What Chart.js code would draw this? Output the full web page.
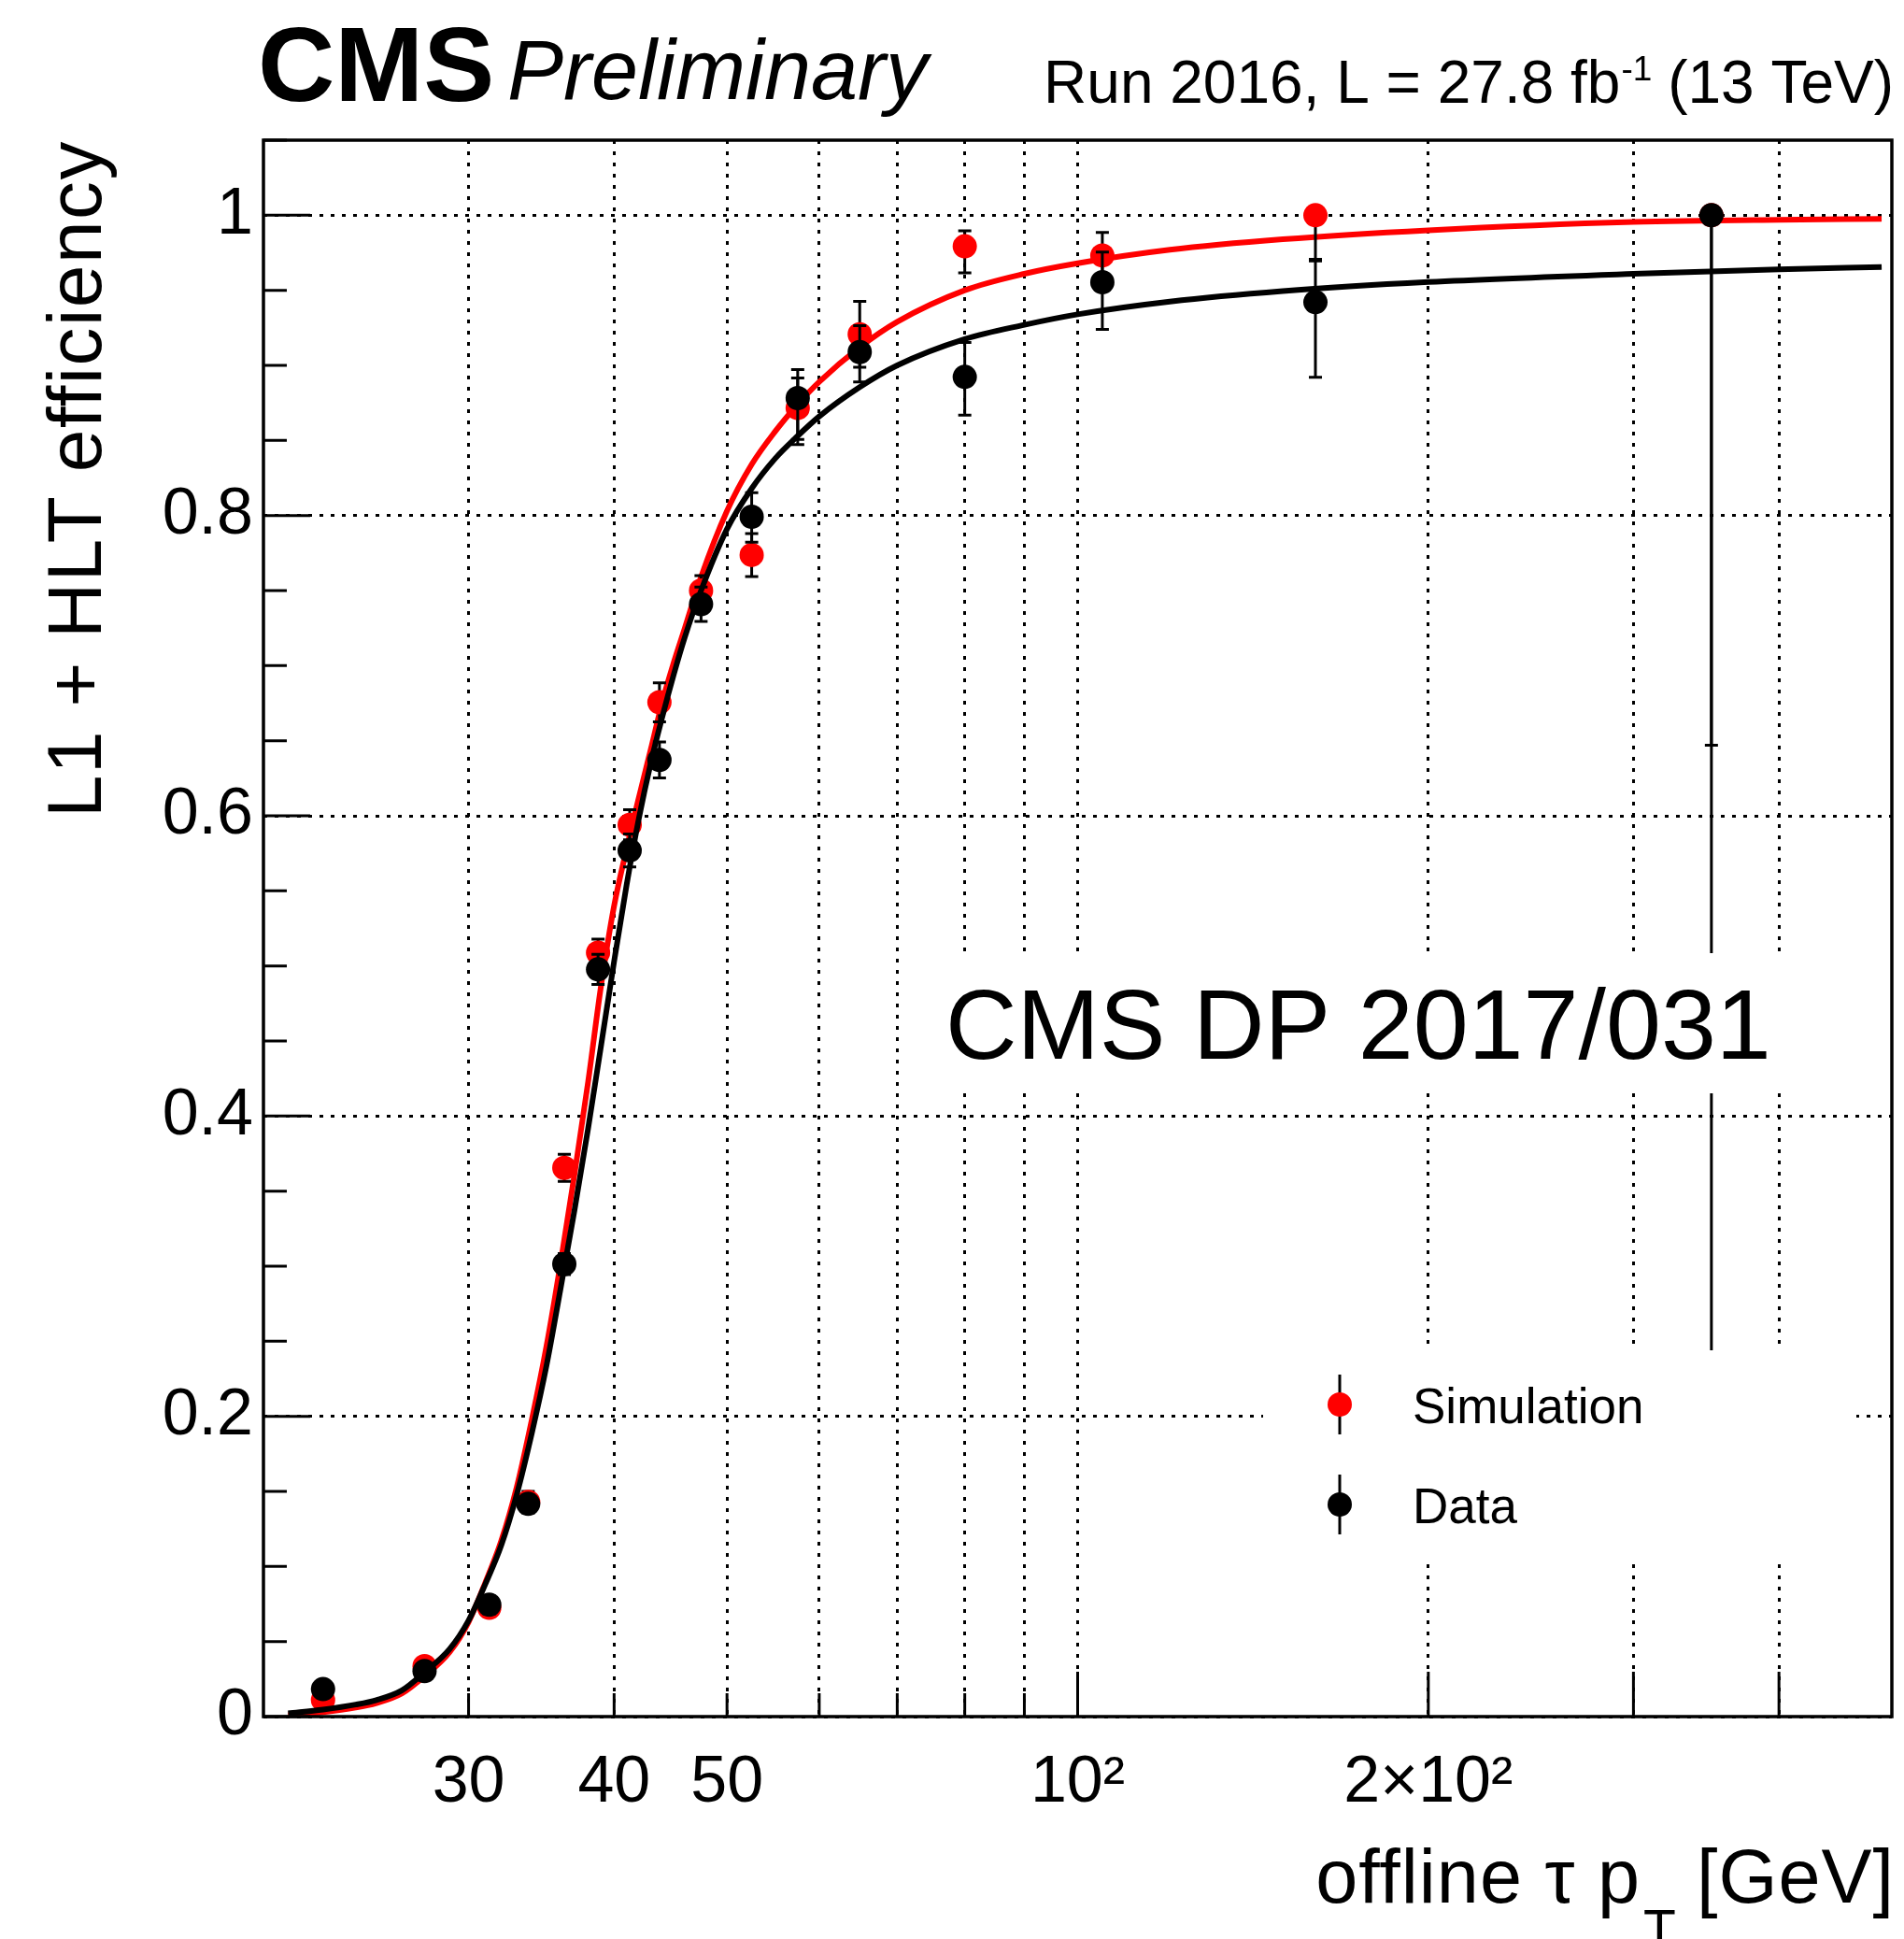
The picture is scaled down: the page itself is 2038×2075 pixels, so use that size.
<!DOCTYPE html>
<html>
<head>
<meta charset="utf-8">
<script src="https://cdn.jsdelivr.net/npm/chart.js@4.4.1/dist/chart.umd.min.js"></script>
<style>
  html, body { margin: 0; padding: 0; background: #fff; }
  #wrap { width: 2038px; height: 2075px; }
</style>
</head>
<body>
<div id="wrap"><canvas id="chart" width="2038" height="2075"></canvas></div>
<script>
const FONT = "'Liberation Sans', Arial, Helvetica, sans-serif";

// offline tau pT bin centres [GeV]
const ptBins = [22.5, 27.5, 31.25, 33.75, 36.25, 38.75, 41.25, 43.75, 47.5, 52.5, 57.5, 65, 80, 105, 160, 350];

// Data (Run 2016)
const dataEff   = [0.0183, 0.0303, 0.0745, 0.1417, 0.3014, 0.4977, 0.5769, 0.6372, 0.7409, 0.7992, 0.8782, 0.9089, 0.8923, 0.9554, 0.9421, 1.0];
const dataErrLo = [0.004, 0.005, 0.006, 0.006, 0.007, 0.010, 0.011, 0.012, 0.0115, 0.017, 0.031, 0.020, 0.0255, 0.0315, 0.050, 0.80];
const dataErrHi = [0.004, 0.005, 0.006, 0.006, 0.007, 0.010, 0.011, 0.012, 0.0115, 0.016, 0.019, 0.0175, 0.023, 0.020, 0.0274, 0];

// Simulation
const simEff   = [0.0111, 0.0336, 0.0725, 0.143, 0.3655, 0.5088, 0.594, 0.6756, 0.750, 0.7737, 0.8716, 0.9207, 0.9793, 0.9732, 1.0, 1.0];
const simErrLo = [0.003, 0.004, 0.005, 0.007, 0.009, 0.009, 0.010, 0.013, 0.010, 0.0143, 0.021, 0.022, 0.0177, 0.0154, 0.0294, 0.353];
const simErrHi = [0.003, 0.004, 0.005, 0.007, 0.009, 0.009, 0.010, 0.013, 0.010, 0.0143, 0.020, 0.022, 0.0103, 0.0154, 0, 0];

// fitted turn-on curves
const fitPt   = [21, 22.5, 24, 25, 26.3, 27.5, 28.9, 30, 31, 32, 33, 34, 35, 36, 37, 38, 39, 40, 41, 42, 43, 44, 45, 46, 47.5, 50, 52.5, 55, 57.5, 60, 65, 70, 80, 90, 100, 120, 150, 200, 300, 400, 490];
const fitData = [0.0022, 0.0047, 0.008, 0.011, 0.0175, 0.0295, 0.045, 0.064, 0.088, 0.114, 0.148, 0.189, 0.234, 0.286, 0.338, 0.392, 0.448, 0.503, 0.554, 0.598, 0.635, 0.666, 0.694, 0.719, 0.750, 0.791, 0.818, 0.838, 0.853, 0.866, 0.8855, 0.900, 0.9175, 0.927, 0.934, 0.9425, 0.9495, 0.9555, 0.961, 0.964, 0.9655];
const fitSim  = [0.001, 0.003, 0.006, 0.009, 0.0155, 0.027, 0.043, 0.063, 0.089, 0.117, 0.153, 0.198, 0.247, 0.303, 0.362, 0.423, 0.488, 0.540, 0.578, 0.612, 0.644, 0.676, 0.702, 0.725, 0.759, 0.803, 0.834, 0.856, 0.874, 0.889, 0.912, 0.929, 0.950, 0.961, 0.968, 0.977, 0.984, 0.990, 0.9955, 0.997, 0.9975];

// axes
const xGrid = [30, 40, 50, 60, 70, 80, 90, 100, 200, 300, 400];
const xTickLabels = { 30: '30', 40: '40', 50: '50', 100: '10²', 200: '2×10²' };
const yTicks = [0, 0.2, 0.4, 0.6, 0.8, 1];
const yTickLabels = ['0', '0.2', '0.4', '0.6', '0.8', '1'];

const toXY = (xs, ys) => xs.map((x, i) => ({ x: x, y: ys[i] }));

// vertical error bars, drawn just before each point dataset
const errorBars = {
  id: 'errorBars',
  beforeDatasetDraw(chart, args) {
    const ds = chart.data.datasets[args.index];
    if (!ds.errLo) return;
    const { ctx, chartArea: a, scales: { x, y } } = chart;
    ctx.save();
    ctx.beginPath();
    ctx.rect(a.left, a.top, a.right - a.left, a.bottom - a.top);
    ctx.clip();
    ctx.strokeStyle = '#000';
    ctx.lineWidth = 3;
    ds.data.forEach((p, i) => {
      const px = x.getPixelForValue(p.x);
      const yHi = y.getPixelForValue(p.y + ds.errHi[i]);
      const yLo = y.getPixelForValue(p.y - ds.errLo[i]);
      ctx.beginPath();
      ctx.moveTo(px, yHi);
      ctx.lineTo(px, yLo);
      if (ds.errHi[i] > 0) { ctx.moveTo(px - 7, yHi); ctx.lineTo(px + 7, yHi); }
      if (ds.errLo[i] > 0) { ctx.moveTo(px - 7, yLo); ctx.lineTo(px + 7, yLo); }
      ctx.stroke();
    });
    ctx.restore();
  }
};

// frame, inward ticks, text boxes, legend and labels
const decorations = {
  id: 'decorations',
  afterDatasetsDraw(chart) {
    const { ctx, chartArea: a, scales: { x, y } } = chart;
    ctx.save();

    // white boxes behind the note and the legend
    ctx.fillStyle = '#fff';
    ctx.fillRect(995, 1020, a.right - 4 - 995, 150);
    ctx.fillRect(1352, 1445, 635, 222);

    // frame
    ctx.strokeStyle = '#000';
    ctx.lineWidth = 3.5;
    ctx.strokeRect(a.left, a.top, a.right - a.left, a.bottom - a.top);

    // x ticks
    ctx.lineWidth = 3;
    ctx.beginPath();
    xGrid.forEach(v => {
      const px = x.getPixelForValue(v);
      const len = v >= 100 ? 48 : 25;
      ctx.moveTo(px, a.bottom);
      ctx.lineTo(px, a.bottom - len);
    });
    // y ticks, major every 0.2, minor every 0.05
    for (let k = 0; k <= 21; k++) {
      const py = y.getPixelForValue(k * 0.05);
      const len = k % 4 === 0 ? 50 : 25;
      ctx.moveTo(a.left, py);
      ctx.lineTo(a.left + len, py);
    }
    ctx.stroke();

    ctx.fillStyle = '#000';
    ctx.textBaseline = 'alphabetic';

    // header
    ctx.textAlign = 'left';
    ctx.font = `bold 114px ${FONT}`;
    ctx.fillText('CMS', 276, 108);
    ctx.font = `italic 90px ${FONT}`;
    ctx.fillText('Preliminary', 543, 106);

    const lumiA = 'Run 2016, L = 27.8 fb';
    const lumiSup = '-1';
    const lumiB = ' (13 TeV)';
    ctx.font = `64px ${FONT}`;
    const wA = ctx.measureText(lumiA).width;
    const wB = ctx.measureText(lumiB).width;
    ctx.font = `37px ${FONT}`;
    const wS = ctx.measureText(lumiSup).width;
    const lx = 2027 - (wA + wS + wB);
    ctx.font = `64px ${FONT}`;
    ctx.fillText(lumiA, lx, 110);
    ctx.font = `37px ${FONT}`;
    ctx.fillText(lumiSup, lx + wA + 1, 86);
    ctx.font = `64px ${FONT}`;
    ctx.fillText(lumiB, lx + wA + wS, 110);

    // note
    ctx.font = `106px ${FONT}`;
    ctx.fillText('CMS DP 2017/031', 1012, 1133);

    // legend
    const legend = [
      { label: 'Simulation', color: '#ff0000', y: 1503 },
      { label: 'Data', color: '#000000', y: 1610 }
    ];
    legend.forEach(item => {
      ctx.strokeStyle = '#000';
      ctx.lineWidth = 3;
      ctx.beginPath();
      ctx.moveTo(1434, item.y - 32);
      ctx.lineTo(1434, item.y + 32);
      ctx.stroke();
      ctx.fillStyle = item.color;
      ctx.beginPath();
      ctx.arc(1434, item.y, 13, 0, Math.PI * 2);
      ctx.fill();
      ctx.fillStyle = '#000';
      ctx.font = `53px ${FONT}`;
      ctx.fillText(item.label, 1512, item.y + 20);
    });

    // axis titles
    ctx.font = `81px ${FONT}`;
    ctx.letterSpacing = '1px';
    ctx.textAlign = 'right';
    ctx.fillText('offline τ p', 1756, 2036);
    ctx.fillText('[GeV]', 2028, 2036);
    ctx.textAlign = 'left';
    ctx.font = `57px ${FONT}`;
    ctx.fillText('T', 1759, 2084);

    ctx.save();
    ctx.translate(108, 150);
    ctx.rotate(-Math.PI / 2);
    ctx.textAlign = 'right';
    ctx.font = `82px ${FONT}`;
    ctx.letterSpacing = '1.5px';
    ctx.fillText('L1 + HLT efficiency', 0, 0);
    ctx.restore();

    ctx.restore();
  }
};

new Chart(document.getElementById('chart'), {
  type: 'line',
  data: {
    datasets: [
      {
        label: 'Data',
        data: toXY(ptBins, dataEff),
        errLo: dataErrLo,
        errHi: dataErrHi,
        showLine: false,
        pointRadius: 13,
        pointBackgroundColor: '#000',
        pointBorderWidth: 0
      },
      {
        label: 'Data fit',
        data: toXY(fitPt, fitData),
        borderColor: '#000',
        borderWidth: 6,
        pointRadius: 0,
        cubicInterpolationMode: 'monotone'
      },
      {
        label: 'Simulation',
        data: toXY(ptBins, simEff),
        errLo: simErrLo,
        errHi: simErrHi,
        showLine: false,
        pointRadius: 13,
        pointBackgroundColor: '#ff0000',
        pointBorderWidth: 0
      },
      {
        label: 'Simulation fit',
        data: toXY(fitPt, fitSim),
        borderColor: '#ff0000',
        borderWidth: 6,
        pointRadius: 0,
        cubicInterpolationMode: 'monotone'
      }
    ]
  },
  options: {
    responsive: false,
    animation: false,
    events: [],
    layout: { padding: { top: 150, right: 12, bottom: 0, left: 0 } },
    plugins: {
      legend: { display: false },
      tooltip: { enabled: false }
    },
    scales: {
      x: {
        type: 'logarithmic',
        min: 20,
        max: 500,
        afterBuildTicks: scale => { scale.ticks = xGrid.map(v => ({ value: v })); },
        afterFit: scale => { scale.height = 238; },
        grid: { color: '#000', lineWidth: 3, drawTicks: false },
        border: { display: false, dash: [4, 8] },
        ticks: {
          autoSkip: false,
          maxRotation: 0,
          minRotation: 0,
          padding: 30,
          color: '#000',
          font: { family: FONT, size: 70 },
          callback: v => xTickLabels[v] || ''
        }
      },
      y: {
        type: 'linear',
        min: 0,
        max: 1.05,
        afterBuildTicks: scale => { scale.ticks = yTicks.map(v => ({ value: v })); },
        afterFit: scale => { scale.width = 282; },
        grid: { color: '#000', lineWidth: 3, drawTicks: false },
        border: { display: false, dash: [4, 8] },
        ticks: {
          padding: 11,
          color: '#000',
          font: { family: FONT, size: 70 },
          callback: v => yTickLabels[yTicks.indexOf(v)]
        }
      }
    }
  },
  plugins: [errorBars, decorations]
});
</script>
</body>
</html>
